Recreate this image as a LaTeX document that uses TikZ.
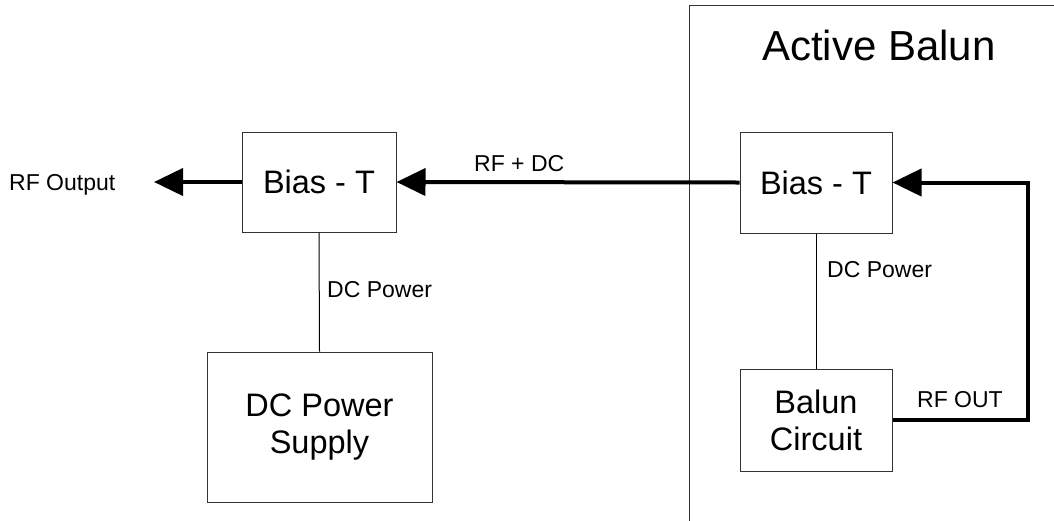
\documentclass[tikz,border=0pt]{standalone}
\usepackage{fontspec}
\setmainfont{Liberation Sans}
\usetikzlibrary{arrows.meta}
\definecolor{boxline}{HTML}{333333}
\tikzset{
  blockbox/.style={draw=boxline, line width=1pt, align=center, inner sep=0pt,
    font=\fontsize{32.5}{37}\selectfont},
  lbl/.style={font=\fontsize{23}{27}\selectfont, inner sep=0pt, anchor=base west},
  thin line/.style={draw=black, line width=1pt},
  rfline/.style={draw=black, line width=4pt, line join=miter,
    -{Triangle[length=29pt,width=27pt]}}
}
\begin{document}
\begin{tikzpicture}[x=1pt,y=-1pt]
\useasboundingbox (0,0) rectangle (1054,520);
\begin{scope}
\clip (0,0) rectangle (1054,520);
\draw[boxline, line width=1pt] (1070,5) -- (689,5) -- (689,540);
\end{scope}
\node[lbl, font=\fontsize{42}{48}\selectfont] (title) at (762,60) {Active Balun};

\node[blockbox, minimum width=154pt, minimum height=100pt] (lbias) at (319,182) {Bias - T};
\node[blockbox, minimum width=152pt, minimum height=101pt] (rbias) at (816,182.5) {Bias - T};
\node[blockbox, minimum width=225pt, minimum height=150pt] (psu) at (319.5,427) {DC Power\\Supply};
\node[blockbox, minimum width=152pt, minimum height=102pt] (balun) at (816,420) {Balun\\Circuit};

\coordinate (out) at (154,182);
\coordinate (corner) at (1028,420);

\draw[rfline] (lbias.west) -- (out);
\draw[rfline] (rbias.west) -- (lbias.east);
\draw[rfline] (balun.east) -- (corner) |- (rbias.east);
\draw[thin line] (lbias.south) -- (psu.north);
\draw[thin line] (rbias.south) -- (balun.north);

\node[lbl] (rfoutput) at (9,190) {RF Output};
\node[lbl] (rfdc) at (474,171) {RF + DC};
\node[lbl] (dcl) at (327,297) {DC Power};
\node[lbl] (dcr) at (827,277) {DC Power};
\node[lbl] (rfout) at (917,407) {RF OUT};
\end{tikzpicture}
\end{document}
